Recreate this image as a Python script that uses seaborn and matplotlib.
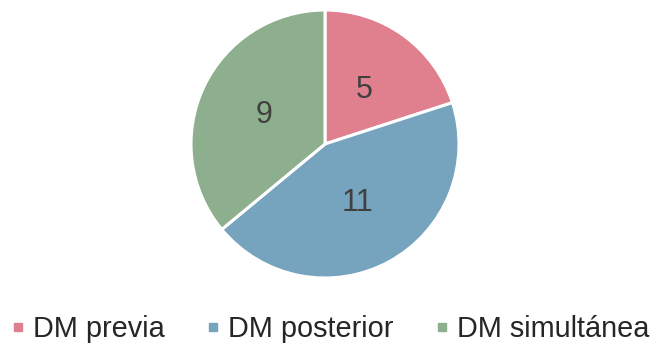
import matplotlib
matplotlib.use("Agg")
import matplotlib.pyplot as plt
import seaborn as sns
from matplotlib.lines import Line2D

categories = ["DM previa", "DM posterior", "DM simultánea"]
values = [5, 11, 9]
colors = ["#E0808F", "#76A3BD", "#8EAF8D"]

sns.set_theme(style="white")
plt.rcParams["font.family"] = ["Liberation Sans", "DejaVu Sans"]

fig = plt.figure(figsize=(6.57, 3.47), dpi=100)
r_px = 134
cx, cy = 325, 347 - 144
ax = fig.add_axes([(cx - r_px) / 657, (cy - r_px) / 347, 2 * r_px / 657, 2 * r_px / 347])

wedges, texts = ax.pie(
    values,
    colors=colors,
    startangle=90,
    counterclock=False,
    labels=[str(v) for v in values],
    labeldistance=0.5,
    wedgeprops=dict(edgecolor="white", linewidth=2.2),
    textprops=dict(fontsize=22, color="#404040", ha="center", va="center"),
)
ax.set_xlim(-1, 1)
ax.set_ylim(-1, 1)
ax.set_aspect("equal")

handles = [Line2D([0], [0], marker="s", linestyle="", markersize=6,
                  markerfacecolor=c, markeredgecolor=c) for c in colors]
fig.legend(handles, categories, loc="center", ncol=3,
           bbox_to_anchor=(330 / 657, 1 - 329 / 347),
           frameon=False, fontsize=20.8, handlelength=0.5,
           handletextpad=0.25, columnspacing=1.45, borderpad=0)

fig.savefig("out.png", dpi=100, facecolor="white")
